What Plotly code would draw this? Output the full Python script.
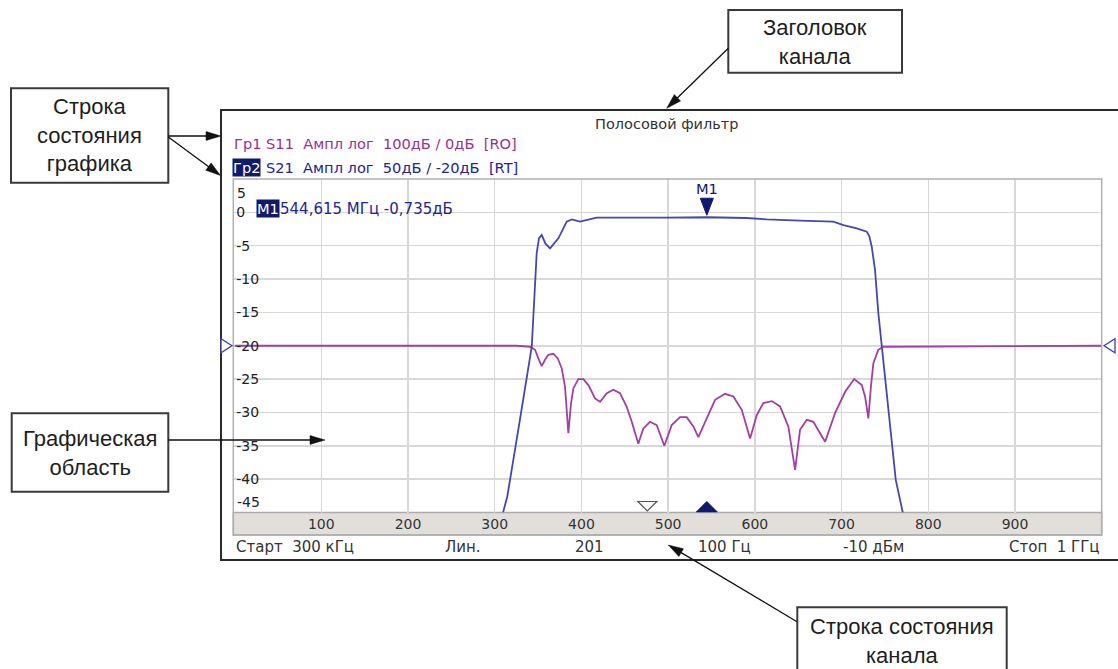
import math
import plotly.graph_objects as go

W, H = 1118, 669

# ---------------- data ----------------
s21_freq = [309.6, 314.5, 328.4, 342.7, 348.4, 351.0, 354.2, 358.5, 363.8, 373.4, 383.0, 388.8,
            398.4, 408.0, 417.6, 498.4, 544.615, 590.0, 613.7, 652.1, 690.5, 702.1, 717.5,
            729.1, 732.0, 734.8, 738.6, 742.4, 746.4, 754.0, 762.5, 770.6]
s21_db = [-45.0, -42.6, -31.6, -20.15, -6.1, -3.9, -3.4, -4.7, -5.4, -3.9, -1.4, -1.05,
          -1.4, -1.05, -0.8, -0.8, -0.735, -0.85, -1.05, -1.25, -1.4, -1.9, -2.4,
          -2.9, -3.6, -5.15, -8.65, -15.1, -20.15, -30.1, -40.1, -45.0]

s11_freq = [0.3, 325.0, 340.7, 346.5, 350.3, 354.2, 358.0, 361.8, 367.6, 372.7, 377.3, 381.1,
            384.9, 388.0, 390.7, 396.4, 402.2, 408.0, 415.7, 421.5, 429.2, 436.8, 444.5,
            452.2, 458.0, 465.6, 471.4, 479.1, 486.8, 495.6, 504.1, 513.7, 521.4, 529.1,
            534.8, 542.6, 554.1, 565.6, 575.2, 584.9, 594.5, 602.2, 609.8, 619.5, 629.1,
            638.6, 646.4, 652.1, 659.9, 667.5, 681.0, 692.5, 704.1, 714.5, 723.3, 727.1,
            730.9, 734.0, 736.7, 742.4, 748.2, 1000.0]
s11_db = [-20.0, -20.0, -20.15, -20.6, -21.9, -23.05, -22.1, -21.35, -21.2, -21.9, -23.4, -26.15,
          -33.1, -28.6, -26.4, -25.0, -25.0, -25.9, -27.9, -28.4, -27.1, -26.6, -27.1,
          -29.15, -31.4, -34.7, -32.4, -31.4, -31.9, -35.0, -31.9, -30.7, -30.7, -32.1,
          -33.7, -31.4, -28.1, -27.2, -27.6, -29.6, -33.9, -30.4, -28.6, -28.3, -29.1,
          -32.1, -38.6, -32.6, -31.1, -31.4, -34.4, -30.1, -26.9, -25.0, -25.9, -27.6,
          -30.9, -25.9, -22.6, -20.6, -20.15, -20.0]

marker1_freq = 544.615
marker1_db = -0.735
marker2_freq = 476.0
ref_level_db = -20

x_range = [-1.5, 1000]
y_range = [-45, 5]
x_ticks = [100, 200, 300, 400, 500, 600, 700, 800, 900]
x_tick_text = ["100", "200", "300", "400", "500", "600", "700", "800", "900"]
y_ticks = [0, -5, -10, -15, -20, -25, -30, -35, -40]
y_tick_text = ["0", "-5", "-10", "-15", "-20", "-25", "-30", "-35", "-40"]
y_edge_ticks = [5, -45]
y_edge_text = ["5", "-45"]

NB = "\u00a0"
title_text = "Полосовой фильтр"
trace1_status = f"Гр1 S11{NB}{NB}Ампл лог{NB}{NB}100дБ / 0дБ{NB}{NB}[RO]"
trace2_tag = "Гр2"
trace2_status = f"S21{NB}{NB}Ампл лог{NB}{NB}50дБ / -20дБ{NB}{NB}[RT]"
marker_tag = "M1"
marker_readout = "544,615 МГц -0,735дБ"
channel_status = [("Старт" + NB + NB + "300 кГц", 234, "left"), ("Лин.", 463, "center"),
                  ("201", 589, "center"), ("100 Гц", 724, "center"),
                  ("-10 дБм", 873, "center"), ("Стоп" + NB + NB + "1 ГГц", 1102, "right")]

callouts = [
    ("Заголовок<br>канала", (728.3, 10, 902, 72.7), 41.5),
    ("Строка<br>состояния<br>графика", (11, 88.3, 168.3, 182.7), 135.5),
    ("Графическая<br>область", (11.7, 413.3, 168.3, 491.7), 453),
    ("Строка состояния<br>канала", (797.3, 607.3, 1006.7, 700), 641),
]
arrows = [
    ((728.3, 48.3), (666.7, 108.3)),
    ((168.3, 136.0), (221.0, 136.0)),
    ((168.3, 137.0), (220.5, 175.5)),
    ((168.3, 440.0), (325.0, 440.0)),
    ((797.0, 621.7), (668.3, 545.0)),
]

# ---------------- layout geometry (pixels) ----------------
PX_L, PX_R = 233.3, 1101.7
PY_T, PY_B = 179.0, 512.5
BAND_B = 535.0


def fx(px):
    return px / W


def fy(py):
    return 1 - py / H


C_S11 = "#a43ea4"
C_S21 = "#4646b4"
C_S11_TXT = "#9b2f96"
C_S21_TXT = "#23239a"
C_NAVY = "#0e1a6c"
C_TXT = "#333333"
MONO = "DejaVu Sans"
CALL = "Liberation Sans"

fig = go.Figure()
fig.add_trace(go.Scatter(x=s11_freq, y=s11_db, mode="lines",
                         line=dict(color=C_S11, width=1.8), hoverinfo="skip"))
fig.add_trace(go.Scatter(x=s21_freq, y=s21_db, mode="lines",
                         line=dict(color=C_S21, width=1.8), hoverinfo="skip"))

shapes = []
annotations = []

# outer instrument frame
shapes.append(dict(type="rect", xref="paper", yref="paper", x0=fx(221), x1=fx(1130),
                   y0=fy(110), y1=fy(560), line=dict(color="#2a2a2a", width=2), layer="below"))
# x axis band
shapes.append(dict(type="rect", xref="paper", yref="paper", x0=fx(PX_L), x1=fx(PX_R),
                   y0=fy(PY_B), y1=fy(BAND_B), fillcolor="#e2dfda",
                   line=dict(color="#ababab", width=1.5), layer="below"))
# plot border
shapes.append(dict(type="rect", xref="paper", yref="paper", x0=fx(PX_L), x1=fx(PX_R),
                   y0=fy(PY_T), y1=fy(BAND_B), line=dict(color="#b0b0b0", width=1.5), layer="above"))

# marker triangles (anchored at data values, sizes in pixels)
shapes.append(dict(type="path", xref="x", yref="y", xsizemode="pixel", ysizemode="pixel",
                   xanchor=marker1_freq, yanchor=marker1_db,
                   path="M -6.5,19 L 6.5,19 L 0,2 Z", fillcolor=C_NAVY, line=dict(color=C_NAVY, width=1)))
shapes.append(dict(type="path", xref="x", yref="y", xsizemode="pixel", ysizemode="pixel",
                   xanchor=marker1_freq, yanchor=y_range[0],
                   path="M -10.5,0.5 L 10.5,0.5 L 0,11 Z", fillcolor=C_NAVY, line=dict(color=C_NAVY, width=1)))
shapes.append(dict(type="path", xref="x", yref="y", xsizemode="pixel", ysizemode="pixel",
                   xanchor=marker2_freq, yanchor=y_range[0],
                   path="M -9.5,11 L 9.5,11 L 0,1.5 Z", fillcolor="white", line=dict(color="#555555", width=1.2)))
# reference level triangles
shapes.append(dict(type="path", xref="paper", yref="y", xsizemode="pixel", ysizemode="pixel",
                   xanchor=fx(221), yanchor=ref_level_db,
                   path="M 0,7 L 0,-7 L 11,0 Z", fillcolor="white", line=dict(color="#4040b0", width=1.3)))
shapes.append(dict(type="path", xref="paper", yref="y", xsizemode="pixel", ysizemode="pixel",
                   xanchor=fx(1115), yanchor=ref_level_db,
                   path="M 0,7 L 0,-7 L -11,0 Z", fillcolor="white", line=dict(color="#4040b0", width=1.3)))

# callout boxes
for text, (x0, y0, x1, y1), cy in callouts:
    shapes.append(dict(type="rect", xref="paper", yref="paper", x0=fx(x0), x1=fx(x1),
                       y0=fy(y0), y1=fy(y1), fillcolor="white",
                       line=dict(color="#3a3a3a", width=2), layer="above"))
    annotations.append(dict(xref="paper", yref="paper", x=fx((x0 + x1) / 2), y=fy(cy),
                            text=text, showarrow=False, xanchor="center", yanchor="middle",
                            font=dict(family=CALL, size=22, color="#1e1e1e")))

# arrows
for (x0, y0), (x1, y1) in arrows:
    dx, dy = x1 - x0, y1 - y0
    d = math.hypot(dx, dy)
    ux, uy = dx / d, dy / d
    L, w = 15, 4.5
    bx, by = x1 - ux * L, y1 - uy * L
    nx, ny = -uy, ux
    shapes.append(dict(type="line", xref="paper", yref="paper", x0=fx(x0), y0=fy(y0),
                       x1=fx(bx + ux * 2), y1=fy(by + uy * 2), line=dict(color="#111111", width=1.3),
                       layer="above"))
    p = "M {:.5f},{:.5f} L {:.5f},{:.5f} L {:.5f},{:.5f} Z".format(
        fx(x1), fy(y1), fx(bx + nx * w), fy(by + ny * w), fx(bx - nx * w), fy(by - ny * w))
    shapes.append(dict(type="path", xref="paper", yref="paper", path=p,
                       fillcolor="#111111", line=dict(color="#111111", width=0.5), layer="above"))

# texts inside the instrument window
annotations.append(dict(xref="paper", yref="paper", x=fx(667), y=fy(124), text=title_text,
                        showarrow=False, xanchor="center", yanchor="middle",
                        font=dict(family=MONO, size=14.5, color=C_TXT)))
annotations.append(dict(xref="paper", yref="paper", x=fx(232), y=fy(143), text=trace1_status,
                        showarrow=False, xanchor="left", yanchor="middle",
                        font=dict(family=MONO, size=14.6, color=C_S11_TXT)))
annotations.append(dict(xref="paper", yref="paper", x=fx(232), y=fy(167), text=trace2_tag,
                        showarrow=False, xanchor="left", yanchor="middle", bgcolor=C_NAVY, borderpad=0,
                        font=dict(family=MONO, size=14.6, color="white")))
annotations.append(dict(xref="paper", yref="paper", x=fx(264), y=fy(167), text=trace2_status,
                        showarrow=False, xanchor="left", yanchor="middle",
                        font=dict(family=MONO, size=14.6, color=C_S21_TXT)))
annotations.append(dict(xref="paper", yref="paper", x=fx(255.5), y=fy(208.5), text=marker_tag,
                        showarrow=False, xanchor="left", yanchor="middle", bgcolor=C_NAVY, borderpad=0,
                        font=dict(family=MONO, size=14.6, color="white")))
annotations.append(dict(xref="paper", yref="paper", x=fx(278), y=fy(208.5), text=marker_readout,
                        showarrow=False, xanchor="left", yanchor="middle",
                        font=dict(family=MONO, size=15, color=C_S21_TXT)))
annotations.append(dict(xref="x", yref="y", x=marker1_freq, y=marker1_db, yshift=29, text=marker_tag,
                        showarrow=False, xanchor="center", yanchor="middle",
                        font=dict(family=MONO, size=14.6, color=C_NAVY)))
for text, px, anch in channel_status:
    annotations.append(dict(xref="paper", yref="paper", x=fx(px), y=fy(546.5), text=text,
                            showarrow=False, xanchor=anch, yanchor="middle",
                            font=dict(family=MONO, size=15, color=C_TXT)))

tickfont = dict(family=MONO, size=14, color="#222222")
# edge tick labels of the y axis sit inside the plot area (shifted off the border)
for val, txt, shift in zip(y_edge_ticks, y_edge_text, [-14, 11]):
    annotations.append(dict(xref="paper", yref="y", x=fx(PX_L + 1.5), y=val, yshift=shift, text=txt,
                            showarrow=False, xanchor="left", yanchor="middle", font=tickfont))

xdom = [fx(PX_L), fx(PX_R)]
ydom = [fy(PY_B), fy(PY_T)]

fig.update_layout(
    width=W, height=H, autosize=False,
    margin=dict(l=0, r=0, t=0, b=0),
    paper_bgcolor="white", plot_bgcolor="white",
    showlegend=False,
    xaxis=dict(domain=xdom, range=x_range, tickvals=x_ticks, ticktext=x_tick_text,
               showgrid=True, gridcolor="#d8d8d8", gridwidth=1.5, zeroline=False,
               showline=False, ticks="", ticklabelstandoff=1,
               tickfont=dict(family=MONO, size=14, color=C_TXT), fixedrange=True),
    yaxis=dict(domain=ydom, range=y_range, tickvals=y_ticks, ticktext=y_tick_text,
               showgrid=True, gridcolor="#d8d8d8", gridwidth=1.5, zeroline=False,
               showline=False, ticks="", ticklabelposition="inside", tickfont=tickfont,
               fixedrange=True),
    shapes=shapes,
    annotations=annotations,
)

fig.write_html("out.html", config={"displayModeBar": False, "staticPlot": True},
               post_script="document.body.style.margin='0';")
